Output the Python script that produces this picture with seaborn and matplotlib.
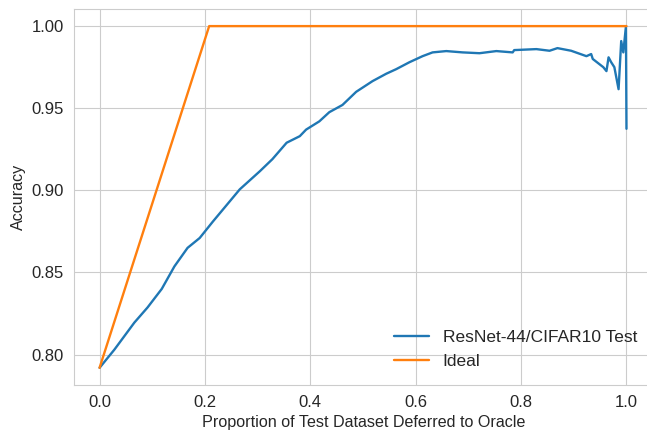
import matplotlib
matplotlib.use("Agg")
import matplotlib.pyplot as plt
import seaborn as sns

# proportion deferred vs accuracy
deferred = [0, 0.028, 0.066, 0.091, 0.118, 0.142, 0.167, 0.19, 0.215, 0.266,
            0.304, 0.328, 0.355, 0.38, 0.392, 0.417, 0.436, 0.461, 0.487, 0.518,
            0.544, 0.563, 0.588, 0.613, 0.632, 0.658, 0.689, 0.721, 0.753, 0.784,
            0.787, 0.829, 0.854, 0.869, 0.895, 0.924, 0.933, 0.936, 0.956, 0.962,
            0.966, 0.971, 0.977, 0.985, 0.990, 0.994, 0.999, 1.0]
accuracy = [0.792, 0.803, 0.8195, 0.8287, 0.840, 0.8537, 0.865, 0.871, 0.881, 0.9006,
            0.9116, 0.919, 0.929, 0.933, 0.937, 0.942, 0.9476, 0.952, 0.960, 0.9665,
            0.971, 0.9738, 0.978, 0.9817, 0.984, 0.9848, 0.984, 0.9835, 0.9848, 0.984,
            0.9854, 0.986, 0.985, 0.9866, 0.985, 0.9817, 0.983, 0.980, 0.975, 0.9726,
            0.981, 0.978, 0.975, 0.9616, 0.9909, 0.984, 1.0, 0.9375]

ideal_x = [0, 0.208, 1.0]
ideal_y = [0.792, 1.0, 1.0]

sns.set_style("whitegrid")
plt.rcParams["font.family"] = ["Liberation Sans", "DejaVu Sans"]

fig, ax = plt.subplots(figsize=(6.47, 4.30), dpi=100)
sns.lineplot(x=deferred, y=accuracy, ax=ax, color="#1f77b4", linewidth=1.7,
             sort=False, estimator=None, label="ResNet-44/CIFAR10 Test")
sns.lineplot(x=ideal_x, y=ideal_y, ax=ax, color="#ff7f0e", linewidth=1.7,
             sort=False, estimator=None, label="Ideal")

ax.set_xlabel("Proportion of Test Dataset Deferred to Oracle", fontsize=11.6)
ax.set_ylabel("Accuracy", fontsize=11.6)
ax.tick_params(labelsize=12)
ax.set_yticks([0.80, 0.85, 0.90, 0.95, 1.00])
ax.set_xlim(-0.049, 1.05)
ax.legend(loc="lower right", frameon=False, fontsize=12.5,
          bbox_to_anchor=(1.0, 0.0))

fig.subplots_adjust(left=0.114, right=1.009, top=0.979, bottom=0.105)
fig.savefig("out.png", dpi=100)
